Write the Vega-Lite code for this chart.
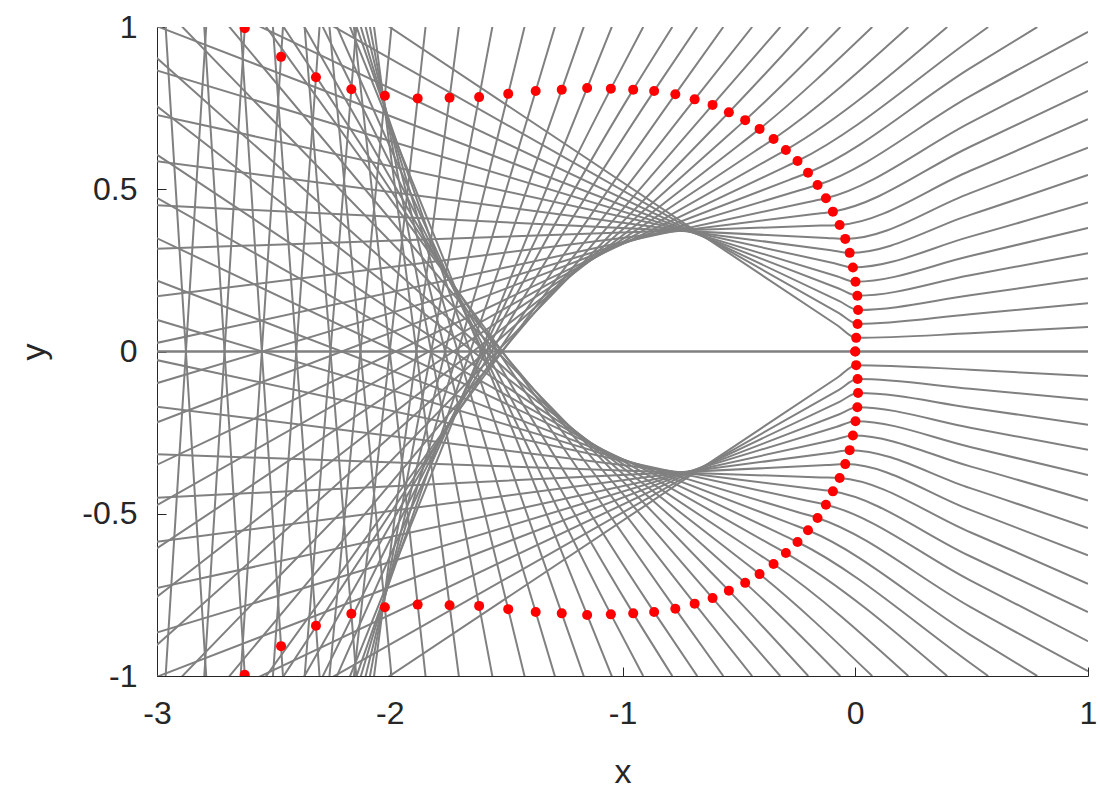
{
  "$schema": "https://vega.github.io/schema/vega-lite/v6.json",
  "width": 931,
  "height": 649,
  "autosize": {"type": "none"},
  "padding": {"left": 157, "top": 27, "right": 12, "bottom": 124},
  "background": "white",
  "config": {"view": {"stroke": null}, "font": "Liberation Sans"},
  "encoding": {
    "x": {"field": "x", "type": "quantitative", "scale": {"domain": [-3, 1], "nice": false, "zero": false},
      "axis": {"title": "x", "values": [-3, -2, -1, 0, 1], "labelExpr": "'' + datum.value", "grid": false,
        "domainColor": "#262626", "tickColor": "#262626", "labelColor": "#262626", "titleColor": "#262626",
        "labelFontSize": 32, "titleFontSize": 34, "titleFontWeight": "normal", "tickSize": -9, "labelPadding": 31, "titlePadding": 26, "labelFlush": false}},
    "y": {"field": "yv", "type": "quantitative", "scale": {"domain": [-1, 1], "nice": false, "zero": false},
      "axis": {"title": "y", "values": [-1, -0.5, 0, 0.5, 1], "labelExpr": "'' + datum.value", "grid": false,
        "domainColor": "#262626", "tickColor": "#262626", "labelColor": "#262626", "titleColor": "#262626",
        "labelFontSize": 32, "titleFontSize": 34, "titleFontWeight": "normal", "tickSize": -9, "labelPadding": 29, "titlePadding": 30, "labelFlush": false}}
  },
  "layer": [
    {
      "data": {"values": [
        {"r": 0, "x": -3.3, "u": 0, "l": 0}, {"r": 0, "x": 1.1, "u": 0, "l": 0},
        {"r": 1, "x": -2.628, "u": 1.3, "l": -1.3}, {"r": 1, "x": -0.076, "u": 0.080, "l": -0.080}, {"r": 1, "x": 0.004, "u": 0.042, "l": -0.042}, {"r": 1, "x": 0.494, "u": 0.056, "l": -0.056}, {"r": 1, "x": 1, "u": 0.0755, "l": -0.0755},
        {"r": 2, "x": -2.975, "u": 1.3, "l": -1.3}, {"r": 2, "x": -0.070, "u": 0.118, "l": -0.118}, {"r": 2, "x": 0.010, "u": 0.085, "l": -0.085}, {"r": 2, "x": 0.494, "u": 0.115, "l": -0.115}, {"r": 2, "x": 1, "u": 0.149, "l": -0.149},
        {"r": 3, "x": -3.3, "u": 1.254, "l": -1.254}, {"r": 3, "x": -0.068, "u": 0.155, "l": -0.155}, {"r": 3, "x": 0.012, "u": 0.128, "l": -0.128}, {"r": 3, "x": 0.494, "u": 0.173, "l": -0.173}, {"r": 3, "x": 1, "u": 0.226, "l": -0.226},
        {"r": 4, "x": -3.3, "u": 1.085, "l": -1.085}, {"r": 4, "x": -0.071, "u": 0.194, "l": -0.194}, {"r": 4, "x": 0.009, "u": 0.172, "l": -0.172}, {"r": 4, "x": 0.494, "u": 0.235, "l": -0.235}, {"r": 4, "x": 1, "u": 0.303, "l": -0.303},
        {"r": 5, "x": -3.3, "u": 0.931, "l": -0.931}, {"r": 5, "x": -0.079, "u": 0.232, "l": -0.232}, {"r": 5, "x": 0.001, "u": 0.215, "l": -0.215}, {"r": 5, "x": 0.494, "u": 0.294, "l": -0.294}, {"r": 5, "x": 1, "u": 0.381, "l": -0.381},
        {"r": 6, "x": -3.3, "u": 0.776, "l": -0.776}, {"r": 6, "x": -0.090, "u": 0.272, "l": -0.272}, {"r": 6, "x": -0.010, "u": 0.259, "l": -0.259}, {"r": 6, "x": 0.494, "u": 0.354, "l": -0.354}, {"r": 6, "x": 1, "u": 0.459, "l": -0.459},
        {"r": 7, "x": -3.3, "u": 0.615, "l": -0.615}, {"r": 7, "x": -0.104, "u": 0.312, "l": -0.312}, {"r": 7, "x": -0.024, "u": 0.304, "l": -0.304}, {"r": 7, "x": 0.494, "u": 0.421, "l": -0.421}, {"r": 7, "x": 1, "u": 0.544, "l": -0.544},
        {"r": 8, "x": -3.3, "u": 0.461, "l": -0.461}, {"r": 8, "x": -0.123, "u": 0.350, "l": -0.350}, {"r": 8, "x": -0.043, "u": 0.347, "l": -0.347}, {"r": 8, "x": 0.494, "u": 0.488, "l": -0.488}, {"r": 8, "x": 1, "u": 0.628, "l": -0.628},
        {"r": 9, "x": -3.3, "u": 0.309, "l": -0.309}, {"r": 9, "x": -0.147, "u": 0.388, "l": -0.388}, {"r": 9, "x": -0.067, "u": 0.390, "l": -0.390}, {"r": 9, "x": 0.494, "u": 0.557, "l": -0.557}, {"r": 9, "x": 1, "u": 0.716, "l": -0.716},
        {"r": 10, "x": -3.3, "u": 0.143, "l": -0.143}, {"r": 10, "x": -0.176, "u": 0.424, "l": -0.424}, {"r": 10, "x": -0.096, "u": 0.431, "l": -0.431}, {"r": 10, "x": 0.494, "u": 0.631, "l": -0.631}, {"r": 10, "x": 1, "u": 0.803, "l": -0.803},
        {"r": 11, "x": -3.3, "u": -0.020, "l": 0.020}, {"r": 11, "x": -0.206, "u": 0.460, "l": -0.460}, {"r": 11, "x": -0.126, "u": 0.472, "l": -0.472}, {"r": 11, "x": 0.494, "u": 0.705, "l": -0.705}, {"r": 11, "x": 1, "u": 0.893, "l": -0.893},
        {"r": 12, "x": -3.3, "u": -0.162, "l": 0.162}, {"r": 12, "x": -0.242, "u": 0.496, "l": -0.496}, {"r": 12, "x": -0.162, "u": 0.513, "l": -0.513}, {"r": 12, "x": 0.494, "u": 0.787, "l": -0.787}, {"r": 12, "x": 1, "u": 0.985, "l": -0.985},
        {"r": 13, "x": -3.3, "u": -0.301, "l": 0.301}, {"r": 13, "x": -0.283, "u": 0.529, "l": -0.529}, {"r": 13, "x": -0.203, "u": 0.551, "l": -0.551}, {"r": 13, "x": 0.494, "u": 0.873, "l": -0.873}, {"r": 13, "x": 0.782, "u": 1, "l": -1},
        {"r": 14, "x": -3.3, "u": -0.451, "l": 0.451}, {"r": 14, "x": -0.328, "u": 0.560, "l": -0.560}, {"r": 14, "x": -0.248, "u": 0.587, "l": -0.587}, {"r": 14, "x": 0.494, "u": 0.960, "l": -0.960}, {"r": 14, "x": 0.571, "u": 1, "l": -1},
        {"r": 15, "x": -3.3, "u": -0.595, "l": 0.595}, {"r": 15, "x": -0.378, "u": 0.589, "l": -0.589}, {"r": 15, "x": -0.298, "u": 0.621, "l": -0.621}, {"r": 15, "x": 0.395, "u": 1, "l": -1},
        {"r": 16, "x": -3.3, "u": -0.749, "l": 0.749}, {"r": 16, "x": -0.431, "u": 0.617, "l": -0.617}, {"r": 16, "x": -0.351, "u": 0.655, "l": -0.655}, {"r": 16, "x": 0.228, "u": 1, "l": -1},
        {"r": 17, "x": -3.3, "u": -0.923, "l": 0.923}, {"r": 17, "x": -0.491, "u": 0.641, "l": -0.641}, {"r": 17, "x": -0.411, "u": 0.686, "l": -0.686}, {"r": 17, "x": 0.073, "u": 1, "l": -1},
        {"r": 18, "x": -3.3, "u": -1.096, "l": 1.096}, {"r": 18, "x": -0.553, "u": 0.662, "l": -0.662}, {"r": 18, "x": -0.473, "u": 0.713, "l": -0.713}, {"r": 18, "x": -0.064, "u": 1, "l": -1},
        {"r": 19, "x": -3.296, "u": -1.3, "l": 1.3}, {"r": 19, "x": -0.623, "u": 0.678, "l": -0.678}, {"r": 19, "x": -0.543, "u": 0.737, "l": -0.737}, {"r": 19, "x": -0.202, "u": 1, "l": -1},
        {"r": 20, "x": -3.037, "u": -1.3, "l": 1.3}, {"r": 20, "x": -0.613, "u": 0.760, "l": -0.760}, {"r": 20, "x": -0.322, "u": 1, "l": -1},
        {"r": 21, "x": -2.831, "u": -1.3, "l": 1.3}, {"r": 21, "x": -0.690, "u": 0.777, "l": -0.777}, {"r": 21, "x": -0.443, "u": 1, "l": -1},
        {"r": 22, "x": -2.729, "u": -1.3, "l": 1.3}, {"r": 22, "x": -0.773, "u": 0.793, "l": -0.793}, {"r": 22, "x": -0.567, "u": 1, "l": -1},
        {"r": 23, "x": -2.602, "u": -1.3, "l": 1.3}, {"r": 23, "x": -0.864, "u": 0.803, "l": -0.803}, {"r": 23, "x": -0.679, "u": 1, "l": -1},
        {"r": 24, "x": -2.492, "u": -1.3, "l": 1.3}, {"r": 24, "x": -0.954, "u": 0.807, "l": -0.807}, {"r": 24, "x": -0.786, "u": 1, "l": -1},
        {"r": 25, "x": -2.411, "u": -1.3, "l": 1.3}, {"r": 25, "x": -1.050, "u": 0.810, "l": -0.810}, {"r": 25, "x": -0.911, "u": 1, "l": -1},
        {"r": 26, "x": -2.339, "u": -1.3, "l": 1.3}, {"r": 26, "x": -1.152, "u": 0.812, "l": -0.812}, {"r": 26, "x": -0.990, "u": 1.1, "l": -1.1},
        {"r": 27, "x": -2.289, "u": -1.3, "l": 1.3}, {"r": 27, "x": -1.261, "u": 0.807, "l": -0.807}, {"r": 27, "x": -1.118, "u": 1.1, "l": -1.1},
        {"r": 28, "x": -2.249, "u": -1.3, "l": 1.3}, {"r": 28, "x": -1.373, "u": 0.803, "l": -0.803}, {"r": 28, "x": -1.249, "u": 1.1, "l": -1.1},
        {"r": 29, "x": -2.206, "u": -1.3, "l": 1.3}, {"r": 29, "x": -1.491, "u": 0.794, "l": -0.794}, {"r": 29, "x": -1.387, "u": 1.1, "l": -1.1},
        {"r": 30, "x": -2.164, "u": -1.3, "l": 1.3}, {"r": 30, "x": -1.616, "u": 0.784, "l": -0.784}, {"r": 30, "x": -1.533, "u": 1.1, "l": -1.1},
        {"r": 31, "x": -2.122, "u": -1.3, "l": 1.3}, {"r": 31, "x": -1.743, "u": 0.782, "l": -0.782}, {"r": 31, "x": -1.685, "u": 1.1, "l": -1.1},
        {"r": 32, "x": -2.200, "u": -1.3, "l": 1.3}, {"r": 32, "x": -1.880, "u": 0.780, "l": -0.780}, {"r": 32, "x": -1.831, "u": 1.1, "l": -1.1},
        {"r": 33, "x": -2.299, "u": -1.3, "l": 1.3}, {"r": 33, "x": -2.021, "u": 0.788, "l": -0.788}, {"r": 33, "x": -1.979, "u": 1.1, "l": -1.1},
        {"r": 34, "x": -2.399, "u": -1.3, "l": 1.3}, {"r": 34, "x": -2.165, "u": 0.808, "l": -0.808}, {"r": 34, "x": -2.133, "u": 1.1, "l": -1.1},
        {"r": 35, "x": -2.532, "u": -1.3, "l": 1.3}, {"r": 35, "x": -2.317, "u": 0.845, "l": -0.845}, {"r": 35, "x": -2.292, "u": 1.1, "l": -1.1},
        {"r": 36, "x": -2.668, "u": -1.3, "l": 1.3}, {"r": 36, "x": -2.467, "u": 0.908, "l": -0.908}, {"r": 36, "x": -2.450, "u": 1.1, "l": -1.1},
        {"r": 37, "x": -2.823, "u": -1.3, "l": 1.3}, {"r": 37, "x": -2.623, "u": 0.996, "l": -0.996}, {"r": 37, "x": -2.614, "u": 1.1, "l": -1.1},
        {"r": 38, "x": -2.989, "u": -1.3, "l": 1.3}, {"r": 38, "x": -2.780, "u": 1.1, "l": -1.1}
      ]},
      "transform": [{"fold": ["u", "l"], "as": ["half", "yv"]}],
      "mark": {"type": "line", "interpolate": "monotone", "clip": true, "color": "#808080", "strokeWidth": 2},
      "encoding": {
        "detail": [{"field": "r", "type": "nominal"}, {"field": "half", "type": "nominal"}],
        "order": {"field": "x", "type": "quantitative"}
      }
    },
    {
      "data": {"values": [
        {"x": 0, "u": 0, "l": 0},
        {"x": 0.004, "u": 0.042, "l": -0.042}, {"x": 0.010, "u": 0.085, "l": -0.085}, {"x": 0.012, "u": 0.128, "l": -0.128},
        {"x": 0.009, "u": 0.172, "l": -0.172}, {"x": 0.001, "u": 0.215, "l": -0.215}, {"x": -0.010, "u": 0.259, "l": -0.259},
        {"x": -0.024, "u": 0.304, "l": -0.304}, {"x": -0.043, "u": 0.347, "l": -0.347}, {"x": -0.067, "u": 0.390, "l": -0.390},
        {"x": -0.096, "u": 0.431, "l": -0.431}, {"x": -0.126, "u": 0.472, "l": -0.472}, {"x": -0.162, "u": 0.513, "l": -0.513},
        {"x": -0.203, "u": 0.551, "l": -0.551}, {"x": -0.248, "u": 0.587, "l": -0.587}, {"x": -0.298, "u": 0.621, "l": -0.621},
        {"x": -0.351, "u": 0.655, "l": -0.655}, {"x": -0.411, "u": 0.686, "l": -0.686}, {"x": -0.473, "u": 0.713, "l": -0.713},
        {"x": -0.543, "u": 0.737, "l": -0.737}, {"x": -0.613, "u": 0.760, "l": -0.760}, {"x": -0.690, "u": 0.777, "l": -0.777},
        {"x": -0.773, "u": 0.793, "l": -0.793}, {"x": -0.864, "u": 0.803, "l": -0.803}, {"x": -0.954, "u": 0.807, "l": -0.807},
        {"x": -1.050, "u": 0.810, "l": -0.810}, {"x": -1.152, "u": 0.812, "l": -0.812}, {"x": -1.261, "u": 0.807, "l": -0.807},
        {"x": -1.373, "u": 0.803, "l": -0.803}, {"x": -1.491, "u": 0.794, "l": -0.794}, {"x": -1.616, "u": 0.784, "l": -0.784},
        {"x": -1.743, "u": 0.782, "l": -0.782}, {"x": -1.880, "u": 0.780, "l": -0.780}, {"x": -2.021, "u": 0.788, "l": -0.788},
        {"x": -2.165, "u": 0.808, "l": -0.808}, {"x": -2.317, "u": 0.845, "l": -0.845}, {"x": -2.467, "u": 0.908, "l": -0.908},
        {"x": -2.623, "u": 0.996, "l": -0.996}
      ]},
      "transform": [{"fold": ["u", "l"], "as": ["half", "yv"]}],
      "mark": {"type": "circle", "clip": true, "color": "#ff0000", "opacity": 1, "size": 100}
    }
  ]
}
